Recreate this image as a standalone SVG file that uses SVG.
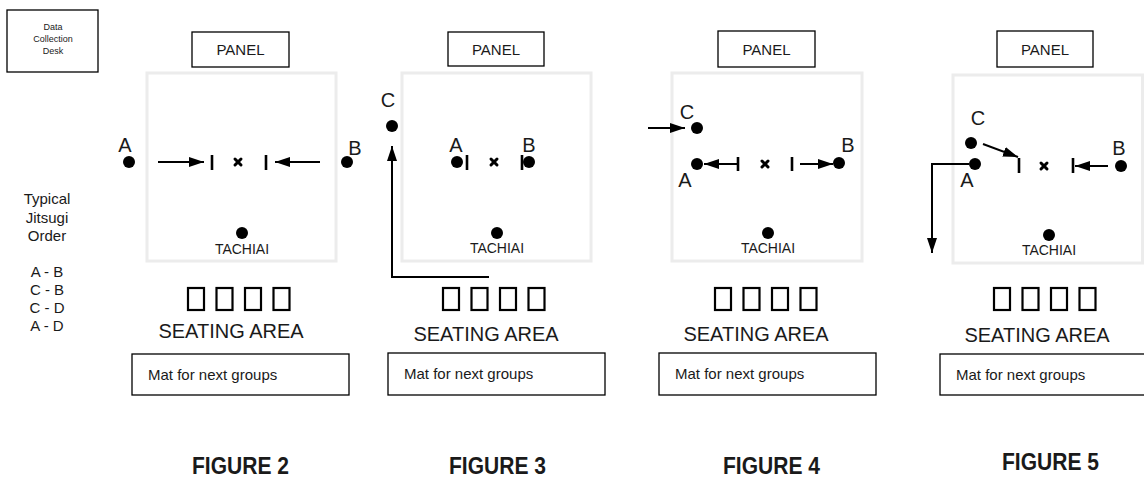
<svg xmlns="http://www.w3.org/2000/svg" width="1144" height="493" viewBox="0 0 1144 493">
<style>
text{font-family:"Liberation Sans",Arial,sans-serif;fill:#1a1a1a}
.box{fill:#fff;stroke:#000;stroke-width:1.3}
.mat{fill:#fff;stroke:#ececec;stroke-width:3}
.dot{fill:#000}
.lbl{font-size:20px;text-anchor:middle}
.panel{font-size:15px;text-anchor:middle}
.tach{font-size:14px;text-anchor:middle}
.seat{font-size:20px;text-anchor:middle}
.matt{font-size:15px}
.fig{font-size:24px;font-weight:bold}
.sq{fill:none;stroke:#000;stroke-width:2.2}
.tick{stroke:#000;stroke-width:2.6}
.xm{stroke:#000;stroke-width:3;stroke-linecap:round}
.arr{fill:none;stroke:#000;stroke-width:2;marker-end:url(#ah)}
.side{font-size:15px;text-anchor:middle}
</style>
<defs>
<marker id="ah" markerUnits="userSpaceOnUse" viewBox="0 0 15 10" markerWidth="15" markerHeight="10" refX="15" refY="5" orient="auto">
<path d="M0,0 L15,5 L0,10 z" fill="#000"/>
</marker>
<g id="seats"><rect class="sq" x="0" y="0" width="16" height="22"/><rect class="sq" x="28.5" y="0" width="16" height="22"/><rect class="sq" x="57" y="0" width="16" height="22"/><rect class="sq" x="85.5" y="0" width="16" height="22"/></g>
<g id="xmark"><line class="xm" x1="-3" y1="-3" x2="3" y2="3"/><line class="xm" x1="-3" y1="3" x2="3" y2="-3"/></g>
</defs>

<g id="desk">
<rect class="box" x="7" y="10" width="91" height="62"/>
<text x="53" y="30" font-size="9" text-anchor="middle">Data</text>
<text x="53" y="42" font-size="9" text-anchor="middle">Collection</text>
<text x="53" y="54" font-size="9" text-anchor="middle">Desk</text>
</g>

<g id="order">
<text class="side" x="47" y="204">Typical</text>
<text class="side" x="47" y="223">Jitsugi</text>
<text class="side" x="47" y="241">Order</text>
<text class="side" x="47" y="277">A - B</text>
<text class="side" x="47" y="295">C - B</text>
<text class="side" x="47" y="313">C - D</text>
<text class="side" x="47" y="331">A - D</text>
</g>

<!-- FIGURE 2 -->
<g id="fig2">
<rect class="box" x="192" y="32" width="97" height="35"/>
<text class="panel" x="240.5" y="55">PANEL</text>
<rect class="mat" x="147" y="73" width="189" height="188"/>
<text class="lbl" x="125" y="152">A</text>
<circle class="dot" cx="129" cy="162" r="6"/>
<text class="lbl" x="355" y="155">B</text>
<circle class="dot" cx="347" cy="162" r="6"/>
<line class="tick" x1="212" y1="155" x2="212" y2="170"/>
<use href="#xmark" x="238" y="162"/>
<line class="tick" x1="266" y1="155" x2="266" y2="170"/>
<circle class="dot" cx="242" cy="233" r="6"/>
<text class="tach" x="242" y="254">TACHIAI</text>
<use href="#seats" x="188" y="288"/>
<text class="seat" x="231" y="338">SEATING AREA</text>
<rect class="box" x="132" y="354" width="217" height="41"/>
<text class="matt" x="148" y="380">Mat for next groups</text>
<text class="fig" x="192" y="474" textLength="97" lengthAdjust="spacingAndGlyphs">FIGURE 2</text>
</g>

<!-- FIGURE 3 -->
<g id="fig3">
<rect class="box" x="448" y="32" width="96" height="34"/>
<text class="panel" x="496" y="55">PANEL</text>
<rect class="mat" x="402" y="73" width="189" height="188"/>
<text class="lbl" x="388" y="107">C</text>
<circle class="dot" cx="392" cy="126" r="6"/>
<text class="lbl" x="456" y="152">A</text>
<circle class="dot" cx="457" cy="162" r="6"/>
<line class="tick" x1="467" y1="155" x2="467" y2="170"/>
<use href="#xmark" x="494" y="162"/>
<text class="lbl" x="529" y="152">B</text>
<line class="tick" x1="522" y1="155" x2="522" y2="170"/>
<circle class="dot" cx="529" cy="162" r="6"/>
<circle class="dot" cx="497" cy="233" r="6"/>
<text class="tach" x="497" y="253">TACHIAI</text>
<use href="#seats" x="443" y="288"/>
<text class="seat" x="486" y="341">SEATING AREA</text>
<rect class="box" x="388" y="353" width="217" height="42"/>
<text class="matt" x="404" y="379">Mat for next groups</text>
<text class="fig" x="449" y="474" textLength="97" lengthAdjust="spacingAndGlyphs">FIGURE 3</text>
</g>

<!-- FIGURE 4 -->
<g id="fig4">
<rect class="box" x="718" y="31" width="97" height="36"/>
<text class="panel" x="766.5" y="55">PANEL</text>
<rect class="mat" x="672" y="73" width="190" height="188"/>
<text class="lbl" x="687" y="119">C</text>
<circle class="dot" cx="697" cy="128" r="6"/>
<circle class="dot" cx="697" cy="164" r="6"/>
<text class="lbl" x="685" y="187">A</text>
<line class="tick" x1="738" y1="157" x2="738" y2="171"/>
<use href="#xmark" x="765" y="164"/>
<line class="tick" x1="792" y1="157" x2="792" y2="171"/>
<circle class="dot" cx="839" cy="163" r="6"/>
<text class="lbl" x="848" y="152">B</text>
<circle class="dot" cx="768" cy="233" r="6"/>
<text class="tach" x="768" y="253">TACHIAI</text>
<use href="#seats" x="715" y="288"/>
<text class="seat" x="756" y="341">SEATING AREA</text>
<rect class="box" x="659" y="353" width="217" height="42"/>
<text class="matt" x="675" y="379">Mat for next groups</text>
<text class="fig" x="723" y="474" textLength="97" lengthAdjust="spacingAndGlyphs">FIGURE 4</text>
</g>

<!-- FIGURE 5 -->
<g id="fig5">
<rect class="box" x="997" y="31" width="96" height="36"/>
<text class="panel" x="1045" y="55">PANEL</text>
<rect class="mat" x="953" y="75" width="189.5" height="188"/>
<text class="lbl" x="978" y="125">C</text>
<circle class="dot" cx="971" cy="143" r="6"/>
<circle class="dot" cx="975" cy="164" r="6"/>
<text class="lbl" x="967" y="187">A</text>
<line class="tick" x1="1019" y1="158" x2="1019" y2="173"/>
<use href="#xmark" x="1044" y="166"/>
<line class="tick" x1="1073" y1="158" x2="1073" y2="173"/>
<circle class="dot" cx="1121" cy="166" r="6"/>
<text class="lbl" x="1119" y="155">B</text>
<circle class="dot" cx="1049" cy="235" r="6"/>
<text class="tach" x="1049" y="255">TACHIAI</text>
<use href="#seats" x="994" y="288"/>
<text class="seat" x="1037" y="342">SEATING AREA</text>
<rect class="box" x="940" y="354" width="220" height="41"/>
<text class="matt" x="956" y="380">Mat for next groups</text>
<text class="fig" x="1002" y="470" textLength="97" lengthAdjust="spacingAndGlyphs">FIGURE 5</text>
</g>

<g id="connectors">
<line class="arr" x1="158" y1="162" x2="204" y2="162"/>
<line class="arr" x1="320" y1="162" x2="275" y2="162"/>
<path class="arr" d="M489,277 L392,277 L392,146"/>
<line class="arr" x1="648" y1="128" x2="685" y2="128"/>
<line class="arr" x1="738" y1="164" x2="704" y2="164"/>
<line class="arr" x1="800" y1="164" x2="833" y2="164"/>
<line class="arr" x1="983" y1="144" x2="1018" y2="157"/>
<line class="arr" x1="1108" y1="166" x2="1075" y2="166"/>
<path class="arr" d="M969,164 L932,164 L932,253"/>
</g>
</svg>
